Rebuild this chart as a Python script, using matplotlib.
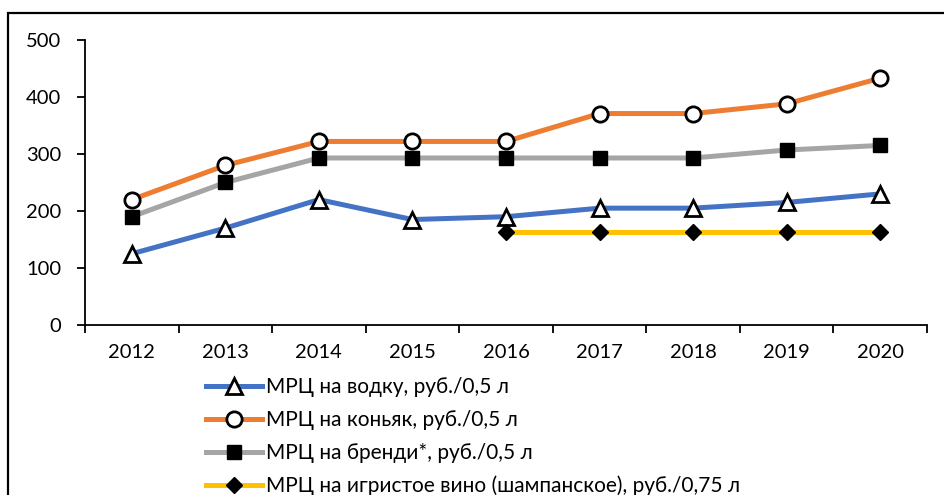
import numpy
import matplotlib
matplotlib.use('Agg')
import matplotlib.pyplot as plt
from matplotlib.patches import Rectangle

plt.rcParams['font.family'] = ['Lato', 'DejaVu Sans']

years = ['2012', '2013', '2014', '2015', '2016', '2017', '2018', '2019', '2020']
vodka = [125, 170, 220, 185, 190, 205, 205, 215, 230]
cognac = [220, 280, 322, 322, 322, 371, 371, 388, 433]
brandy = [190, 250, 293, 293, 293, 293, 293, 307, 315]
wine_years = ['2016', '2017', '2018', '2019', '2020']
wine = [164, 164, 164, 164, 164]

labels = ['МРЦ на водку, руб./0,5 л',
          'МРЦ на коньяк, руб./0,5 л',
          'МРЦ на бренди*, руб./0,5 л',
          'МРЦ на игристое вино (шампанское), руб./0,75 л']

fig = plt.figure(figsize=(9.44, 4.95), dpi=100)
ax = fig.add_axes([85 / 944, 170 / 495, 842 / 944, 285 / 495])

x = numpy.arange(len(years))
xw = numpy.array([years.index(y) for y in wine_years])
lw = 3.6
ax.plot(x, vodka, color='#4472C4', lw=lw, marker='^', ms=11, mfc='white', mec='black', mew=2, label=labels[0])
ax.plot(x, cognac, color='#ED7D31', lw=lw, marker='o', ms=11, mfc='white', mec='black', mew=2, label=labels[1])
ax.plot(x, brandy, color='#A5A5A5', lw=lw, marker='s', ms=10, mfc='black', mec='black', mew=1, label=labels[2])
ax.plot(xw, wine, color='#FFC000', lw=lw, marker='D', ms=8, mfc='black', mec='black', mew=1, label=labels[3])

ax.set_xlim(-0.5, len(years) - 0.5)
ax.set_ylim(0, 500)
ax.set_yticks(range(0, 501, 100))
ax.set_xticks(x)
ax.set_xticklabels(years)
ax.set_xticks(numpy.arange(-0.5, len(years)), minor=True)
ax.tick_params(axis='x', which='major', length=0, pad=14, labelsize=14.5)
ax.tick_params(axis='x', which='minor', length=6, width=1.3, direction='out')
ax.tick_params(axis='y', length=6, width=1.3, pad=11, labelsize=14.5)
for side in ['top', 'right']:
    ax.spines[side].set_visible(False)
for side in ['left', 'bottom']:
    ax.spines[side].set_linewidth(1.3)

fig.legend(loc='upper left', bbox_to_anchor=(206 / 944, 1 - 377 / 495), frameon=False,
           fontsize=15, handlelength=2.7, handletextpad=0.2, labelspacing=0.62,
           borderpad=0, borderaxespad=0)

fig.patches.append(Rectangle((8 / 944, -0.1), 1.2, 0.1 + 1 - 13 / 495, transform=fig.transFigure,
                             fill=False, edgecolor='black', lw=1.6, clip_on=False))

fig.savefig('out.png', dpi=100)
